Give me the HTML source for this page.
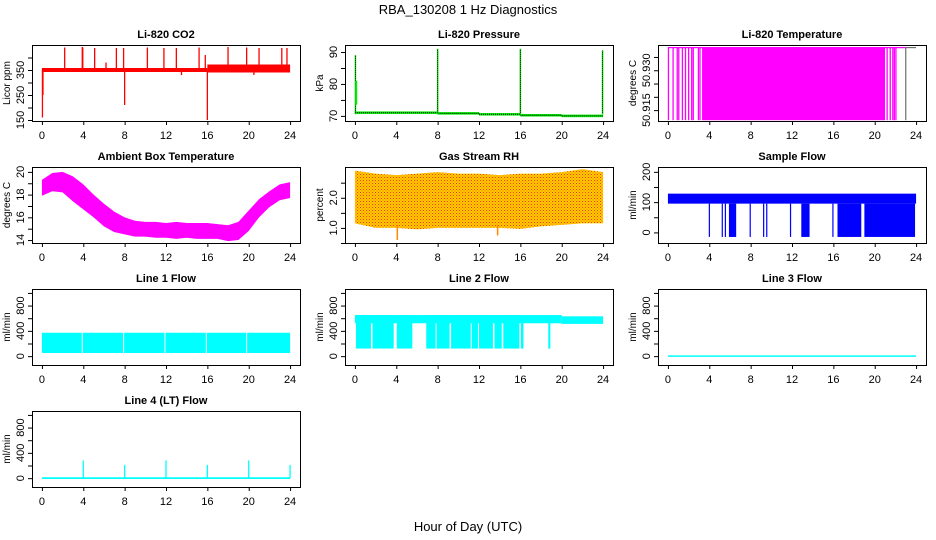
<!DOCTYPE html>
<html><head><meta charset="utf-8"><style>
html,body{margin:0;padding:0;background:#fff;}
svg{display:block;font-family:"Liberation Sans",sans-serif;}
</style></head><body>
<svg id="chart" width="936" height="540" viewBox="0 0 936 540">
<text x="468" y="14" text-anchor="middle" font-size="13">RBA_130208  1 Hz Diagnostics</text>
<text x="468" y="531" text-anchor="middle" font-size="13">Hour of Day (UTC)</text>
</svg>
<script>
// ---- data ----
const xTicks = [0,4,8,12,16,20,24];
// CO2
const co2BandT = [0,16,16,24];
const co2BandLo = [342,342,340,340];
const co2BandHi = [358,358,372,372];
const co2SpikeT = [0.05,0.1,2.2,3.9,3.95,5.1,7.2,7.9,8.0,10.2,11.8,13.0,15.2,15.8,16.0,18.0,19.8,21.0,23.2,23.7,6.2,13.5,20.5];
const co2SpikeV = [160,250,440,442,440,438,438,438,210,440,438,438,440,410,150,442,440,438,438,438,380,330,330];
// Pressure
const prT = [0,8,12,16,20,24];
const prV = [71,70.8,70.5,70.2,70,69.9];
const prSpikeT = [0.05,8.0,16.0,23.95];
const prSpikeV = [89,91,91,90.5];
// Li-820 temperature
const tHigh = 50.9385, tLow = 50.9112;
const tFillStart = 3.3, tFillEnd = 21.0;
const tLineT = [0.05,0.5,0.9,1.05,1.4,1.7,2.0,2.3,2.45,2.95,3.1,21.2,21.5,21.75,21.9,22.05,23.0];
// Ambient
const ambT = [0,1,2,3,4,5,6,7,8,9,10,11,12,13,14,15,16,17,18,19,20,21,22,23,24];
const ambHi = [19.3,19.9,20.0,19.6,18.9,18.0,17.2,16.5,16.0,15.7,15.6,15.6,15.5,15.6,15.5,15.5,15.5,15.4,15.3,15.6,16.6,17.6,18.3,18.9,19.1];
const ambLo = [17.9,18.3,18.2,17.4,16.7,16.0,15.2,14.7,14.5,14.3,14.3,14.2,14.2,14.1,14.2,14.1,14.1,14.1,13.9,14.0,14.8,16.0,16.9,17.5,17.7];
// RH
const rhT = [0,2,4,6,8,10,12,14,16,18,20,22,24];
const rhHi = [2.9,2.8,2.75,2.8,2.85,2.8,2.8,2.75,2.8,2.8,2.85,2.95,2.85];
const rhLo = [1.15,1.0,1.0,0.95,1.0,1.0,1.0,1.0,0.97,1.05,1.1,1.15,1.15];
const rhSpikeT = [4.1,13.8];
const rhSpikeV = [0.6,0.75];
// Sample flow
const sfLo = 95, sfHi = 128, sfDrop = -15;
const sfDropStart = [3.95,5.2,5.5,5.9,7.9,9.2,9.5,11.8,12.9,15.9,16.4,19.0];
const sfDropEnd = [4.02,5.3,5.6,6.6,8.0,9.3,9.55,11.9,13.7,16.0,18.7,23.9];
// Line 1
const l1Lo = 50, l1Hi = 370;
const l1GapT = [3.9,7.9,11.9,15.9,19.8];
// Line 2
const l2BandT = [0,20,24];
const l2BandLo = [520,510,510];
const l2BandHi = [650,630,620];
const l2FullStart = [0.1,1.7,4.05,6.9,7.9,9.3,11.3,12.0,13.5,14.35,16.05,18.7];
const l2FullEnd = [1.55,3.75,5.55,7.8,9.15,11.2,11.9,13.35,14.2,15.9,16.3,18.9];
const l2FullLo = 120;
// Line 3
const l3Value = 0;
// Line 4
const l4SpikeT = [4,8,12,16,20,24];
const l4SpikeV = [280,210,280,210,280,210];

// ---- layout ----
const NS = "http://www.w3.org/2000/svg";
const svg = document.getElementById('chart');
const colL = [32,345,658], rowT = [45,167,289,411], PW = 268, PH = 76;
function el(tag, attrs, parent){const e=document.createElementNS(NS,tag);for(const k in attrs)e.setAttribute(k,attrs[k]);(parent||svg).appendChild(e);return e;}

function panel(name, col, row, title, ytitle, ylim, yTicks, yLabels){
  const g = el('g',{});
  
  
  const L=colL[col], T=rowT[row];
  const x0=-0.96, x1=24.96;
  const sx = v => L + (v-x0)/(x1-x0)*PW;
  const sy = v => T+PH - (v-ylim[0])/(ylim[1]-ylim[0])*PH;
  const t = el('text',{x:L+PW/2,y:T-7,'text-anchor':'middle','font-size':11,'font-weight':'bold'},g);
  t.textContent=title;
  
  
  const marks = el('g',{},g);
  
  
  const box = el('rect',{x:L+0.5,y:T+0.5,width:PW,height:PH,fill:'none',stroke:'#000'},g);
  
  
  const xa = el('g',{},g);
  
  
  el('line',{x1:sx(0),x2:sx(24),y1:T+PH+0.5,y2:T+PH+0.5,stroke:'#000'},xa);
  xTicks.forEach(v=>{
    el('line',{x1:sx(v)+0.5,x2:sx(v)+0.5,y1:T+PH,y2:T+PH+4,stroke:'#000'},xa);
    const tx=el('text',{x:sx(v),y:T+PH+18,'text-anchor':'middle','font-size':11},xa);tx.textContent=v;
  });
  const ya = el('g',{},g);
  
  
  el('line',{x1:L+0.5,x2:L+0.5,y1:sy(yTicks[0]),y2:sy(yTicks[yTicks.length-1]),stroke:'#000'},ya);
  yTicks.forEach((v,i)=>{
    const y=sy(v);
    el('line',{x1:L-4,x2:L,y1:y+0.5,y2:y+0.5,stroke:'#000'},ya);
    if(yLabels[i]){const tx=el('text',{x:0,y:0,'text-anchor':'middle','font-size':11,transform:`translate(${L-8},${y}) rotate(-90)`},ya);tx.textContent=yLabels[i];}
  });
  const yt=el('text',{x:0,y:0,'text-anchor':'middle','font-size':10,transform:`translate(${L-22},${T+PH/2}) rotate(-90)`},g);
  yt.textContent=ytitle;
  
  
  return {sx,sy,g:marks};
}
function rectV(p,t0,t1,lo,hi,fill,minW){
  const x=p.sx(t0), w=Math.max(minW||1,p.sx(t1)-x);
  const r=el('rect',{x:x,y:p.sy(hi),width:w,height:Math.max(1,p.sy(lo)-p.sy(hi)),fill:fill},p.g);
  return r;
}
function vline(p,t,a,b,color,w){return el('line',{x1:p.sx(t),x2:p.sx(t),y1:p.sy(a),y2:p.sy(b),stroke:color,'stroke-width':w||1.2},p.g);}
function band(p,T,Lo,Hi,fill){
  let d='M'+T.map((t,i)=>p.sx(t)+','+p.sy(Hi[i])).join('L');
  for(let i=T.length-1;i>=0;i--)d+='L'+p.sx(T[i])+','+p.sy(Lo[i]);
  return el('path',{d:d+'Z',fill:fill},p.g);
}

// CO2
let p=panel('co2-panel',0,0,'Li-820 CO2','Licor ppm',[146,450],[150,200,250,300,350,400],['150','','250','','350','']);
for(let i=0;i<co2BandT.length-1;i+=2){const r=rectV(p,co2BandT[i],co2BandT[i+1],Math.min(co2BandLo[i],co2BandLo[i+1]),Math.max(co2BandHi[i],co2BandHi[i+1]),'#ff0000');}
co2SpikeT.forEach((t,i)=>{const l=vline(p,t,350,co2SpikeV[i],'#ff0000',1.3);});

// Pressure
p=panel('pressure-panel',1,0,'Li-820 Pressure','kPa',[68.4,92.2],[70,75,80,85,90],['70','','80','','90']);
for(let i=0;i<prT.length-1;i++){const r=rectV(p,prT[i],prT[i+1],prV[i]-0.4,prV[i]+0.4,'#00ee00');}
for(let i=0;i<prT.length-1;i++){const l=el('line',{x1:p.sx(prT[i]),x2:p.sx(prT[i+1]),y1:p.sy(prV[i]),y2:p.sy(prV[i]),stroke:'#000','stroke-dasharray':'1,1'},p.g);}
prSpikeT.forEach((t,i)=>{vline(p,t,prV[0]-0.5,prSpikeV[i],'#00dd00',1.5);const l=vline(p,t,prV[0],prSpikeV[i],'#000',0.8);l.setAttribute('stroke-dasharray','1,1');});
{const l=vline(p,0.12,73.5,81,'#00ee00',2);}

// Li-820 Temperature
p=panel('li820-temperature-panel',2,0,'Li-820 Temperature','degrees C',[50.9109,50.9395],[50.915,50.920,50.925,50.930,50.935],['50.915','','','50.930','']);
{const r=rectV(p,tFillStart,tFillEnd,tLow,tHigh,'#ff00ff');}
tLineT.forEach((t,i)=>{const l=vline(p,t,tLow,tHigh,i==tLineT.length-1?'#777':'#ff00ff',1.3);});
{const l=el('line',{x1:p.sx(0),x2:p.sx(23),y1:p.sy(tHigh),y2:p.sy(tHigh),stroke:'#ff00ff','stroke-width':1.3},p.g);
 const l2=el('line',{x1:p.sx(23),x2:p.sx(24),y1:p.sy(tHigh),y2:p.sy(tHigh),stroke:'#555'},p.g);}

// Ambient
p=panel('ambient-temperature-panel',0,1,'Ambient Box Temperature','degrees C',[13.74,20.43],[14,15,16,17,18,19,20],['14','','16','','18','','20']);
{const b=band(p,ambT,ambLo,ambHi,'#ff00ff');}

// RH
p=panel('gas-stream-rh-panel',1,1,'Gas Stream RH','percent',[0.5,3.02],[0.5,1.0,1.5,2.0,2.5],['','1.0','','2.0','']);
{const defs=el('defs',{},p.g);const pat=el('pattern',{id:'rhpat',width:3,height:3,patternUnits:'userSpaceOnUse'},defs);
 el('rect',{width:3,height:3,fill:'#ffd000'},pat);el('rect',{x:0,y:0,width:1,height:1,fill:'#ff3000'},pat);el('rect',{x:1.5,y:1.5,width:1,height:1,fill:'#ff5000'},pat);
 const b=band(p,rhT,rhLo,rhHi,'url(#rhpat)');}
rhSpikeT.forEach((t,i)=>{const l=vline(p,t,1.1,rhSpikeV[i],'#ff8800',1.5);});

// Sample flow
p=panel('sample-flow-panel',2,1,'Sample Flow','ml/min',[-35,216],[0,50,100,150,200],['0','','100','','200']);
{const r=rectV(p,0,24,sfLo,sfHi,'#0000ff');}
sfDropStart.forEach((t,i)=>{const r=rectV(p,t,sfDropEnd[i],sfDrop,sfLo,'#0000ff',1.2);});

// Line 1
const flowTicks=[0,200,400,600,800,1000], flowLab=['0','','400','','800',''], flowLim=[-140,1062];
p=panel('line1-flow-panel',0,2,'Line 1 Flow','ml/min',flowLim,flowTicks,flowLab);
{const r=rectV(p,0,24,l1Lo,l1Hi,'#00ffff');}
l1GapT.forEach(t=>{const l=vline(p,t,l1Lo,l1Hi,'#fff',1);});

// Line 2
p=panel('line2-flow-panel',1,2,'Line 2 Flow','ml/min',flowLim,flowTicks,flowLab);
for(let i=0;i<l2BandT.length-1;i++){const r=rectV(p,l2BandT[i],l2BandT[i+1],l2BandLo[i],l2BandHi[i],'#00ffff');}
l2FullStart.forEach((t,i)=>{const r=rectV(p,t,l2FullEnd[i],l2FullLo,l2BandHi[0],'#00ffff',1.2);});

// Line 3
p=panel('line3-flow-panel',2,2,'Line 3 Flow','ml/min',flowLim,flowTicks,flowLab);
{const l=el('line',{x1:p.sx(0),x2:p.sx(24),y1:p.sy(l3Value),y2:p.sy(l3Value),stroke:'#00ffff','stroke-width':1.5},p.g);}

// Line 4
p=panel('line4-flow-panel',0,3,'Line 4 (LT) Flow','ml/min',flowLim,flowTicks,flowLab);
{const l=el('line',{x1:p.sx(0),x2:p.sx(24),y1:p.sy(0),y2:p.sy(0),stroke:'#00ffff','stroke-width':1.8},p.g);}
l4SpikeT.forEach((t,i)=>{const l=vline(p,t,0,l4SpikeV[i],'#00ffff',1.3);});
</script>
</body></html>
